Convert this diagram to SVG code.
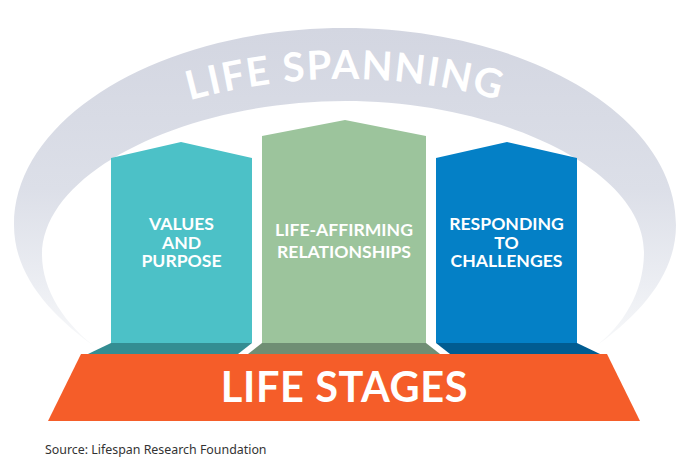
<svg xmlns="http://www.w3.org/2000/svg" width="690" height="474" viewBox="0 0 690 474">
<style>
.lbl{font-family:"Lato","Liberation Sans",sans-serif;font-weight:700;fill:#fff;text-anchor:middle}
.p{font-size:17.6px}
</style>
<defs>
<linearGradient id="arc" gradientUnits="userSpaceOnUse" x1="0" y1="28" x2="0" y2="350">
<stop offset="0" stop-color="#d3d6e1"/><stop offset="0.5" stop-color="#dcdfe8"/><stop offset="0.8" stop-color="#eceef3"/><stop offset="1" stop-color="#f8f9fa"/>
</linearGradient>
<path id="curve" d="M170,106 Q345,52 520,106"/>
</defs>
<rect width="690" height="474" fill="#fff"/>
<g id="life-spanning">
<path fill="url(#arc)" d="M98,349 C50,315 14,275 14,225 C14,115 165,28 345,28 C525,28 676,115 676,225 C676,275 640,315 592,349 C625,325 644,290 644,252 C644,170 500,101 345,101 C190,101 42,170 42,255 C42,290 65,325 98,349 Z"/>
<text class="lbl" font-size="40" letter-spacing="1.6"><textPath href="#curve" startOffset="50%">LIFE SPANNING</textPath></text>
</g>
<g id="values-and-purpose">
<polygon fill="#338d92" points="88,354 111,343 252,343 238,354"/>
<polygon fill="#4cc1c7" points="111,158 181,142 252,158 252,343 111,343"/>
<text class="lbl p" x="181.5" y="230">VALUES</text>
<text class="lbl p" x="181.5" y="248.5">AND</text>
<text class="lbl p" x="181.5" y="267">PURPOSE</text>
</g>
<g id="life-affirming-relationships">
<polygon fill="#6f8e74" points="248,354 262,343 426,343 440,354"/>
<polygon fill="#9cc49c" points="262,136 345,120 426,136 426,343 262,343"/>
<text class="lbl p" x="344" y="236">LIFE-AFFIRMING</text>
<text class="lbl p" x="344" y="258">RELATIONSHIPS</text>
</g>
<g id="responding-to-challenges">
<polygon fill="#015c91" points="450,354 436,343 577,343 600,354"/>
<polygon fill="#0480c6" points="436,158 507,142 577,158 577,343 436,343"/>
<text class="lbl p" x="506.5" y="230">RESPONDING</text>
<text class="lbl p" x="506.5" y="248.5">TO</text>
<text class="lbl p" x="506.5" y="267">CHALLENGES</text>
</g>
<g id="life-stages">
<polygon fill="#f55d29" points="81,354 607,354 640,421 48,421"/>
<text class="lbl" x="344.5" y="402" font-size="41.5" letter-spacing="0.6">LIFE STAGES</text>
</g>
<text id="source" x="45" y="454" font-family="'Noto Sans','DejaVu Sans',sans-serif" font-size="12.4" fill="#333">Source: Lifespan Research Foundation</text>
<g id="connectors"/>
</svg>
